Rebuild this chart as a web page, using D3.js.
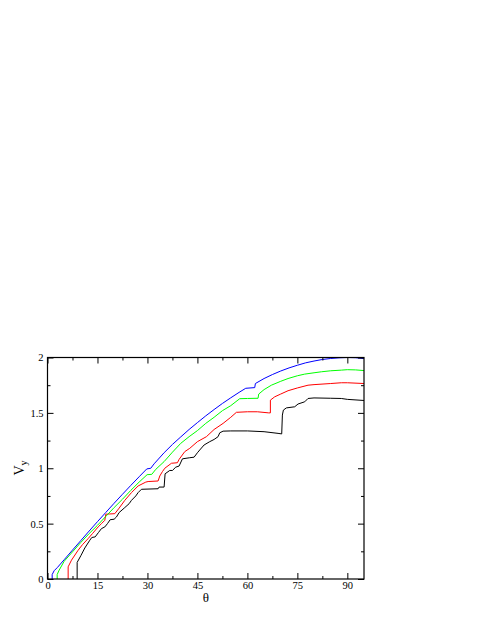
<!DOCTYPE html>
<html>
<head>
<meta charset="utf-8">
<script src="https://cdn.jsdelivr.net/npm/d3@7/dist/d3.min.js"></script>
<style>
  html, body { margin: 0; padding: 0; background: #fff; }
  svg { display: block; }
  text { font-family: "Liberation Serif", "DejaVu Serif", serif; fill: #000; }
</style>
</head>
<body>
<svg id="chart" width="485" height="627"></svg>
<script>
// ---- data ----
const xTicks = [0, 15, 30, 45, 60, 75, 90];
const xTickLabels = ["0", "15", "30", "45", "60", "75", "90"];
const xMinorTicks = [7.5, 22.5, 37.5, 52.5, 67.5, 82.5];
const yTicks = [0, 0.5, 1, 1.5, 2];
const yTickLabels = ["0", "0.5", "1", "1.5", "2"];
const yMinorTicks = [0.25, 0.75, 1.25, 1.75];

const blueTheta = [1.4, 1.4, 2.0, 3, 5, 7.5, 10, 12.5, 15, 17.5, 20, 22.5, 25, 27.5, 29.8, 31, 32, 35, 37.5, 40, 42.5, 45, 47.5, 50, 52.5, 55, 57.5, 59.5, 62.2, 62.4, 65, 67.5, 70, 72.5, 75, 77.5, 80, 82.5, 85, 87.5, 90, 92.5, 95];
const blueV     = [0, 0.04, 0.075, 0.105, 0.174, 0.261, 0.347, 0.433, 0.518, 0.601, 0.684, 0.765, 0.845, 0.923, 0.994, 1.0, 1.04, 1.14, 1.215, 1.283, 1.35, 1.412, 1.473, 1.53, 1.585, 1.636, 1.685, 1.722, 1.728, 1.765, 1.81, 1.846, 1.878, 1.906, 1.93, 1.952, 1.968, 1.982, 1.991, 1.997, 2.0, 1.998, 1.99];

const greenTheta = [2.9, 2.9, 3.5, 5, 7.5, 10, 12.5, 15, 17.5, 20, 22.5, 25, 27.5, 29.9, 31.3, 32.5, 35, 37.5, 40, 42.5, 45, 47.5, 50, 52.5, 55, 57.7, 60, 63.2, 63.4, 65, 67.2, 70, 72.2, 75, 77.2, 80, 82.2, 85, 88.2, 90, 92.5, 95];
const greenV     = [0, 0.04, 0.08, 0.16, 0.245, 0.33, 0.41, 0.485, 0.565, 0.645, 0.72, 0.80, 0.875, 0.942, 0.945, 0.99, 1.06, 1.145, 1.225, 1.285, 1.34, 1.405, 1.46, 1.52, 1.565, 1.628, 1.63, 1.632, 1.67, 1.71, 1.75, 1.785, 1.81, 1.835, 1.85, 1.862, 1.871, 1.88, 1.886, 1.89, 1.888, 1.882];

const redTheta = [6.2, 6.2, 7.2, 9.2, 10.5, 12.2, 13.5, 15.2, 16.2, 17.2, 17.5, 18.5, 20.2, 21.5, 23.2, 25.2, 27.2, 29.5, 30.2, 33.2, 33.7, 34.5, 35.2, 37.2, 39.0, 39.5, 41.2, 42.7, 45, 47.7, 50, 52.7, 55, 56.7, 60, 63, 66.4, 66.9, 66.9, 68.2, 70, 72.2, 75, 78.2, 80, 85, 88.2, 90, 95];
const redV     = [0, 0.11, 0.17, 0.26, 0.31, 0.365, 0.41, 0.47, 0.50, 0.53, 0.585, 0.587, 0.59, 0.64, 0.71, 0.78, 0.84, 0.875, 0.88, 0.885, 0.93, 0.97, 1.0, 1.045, 1.05, 1.08, 1.15, 1.18, 1.24, 1.285, 1.35, 1.405, 1.46, 1.505, 1.51, 1.51, 1.50, 1.50, 1.615, 1.645, 1.67, 1.70, 1.725, 1.75, 1.755, 1.765, 1.772, 1.772, 1.765];

const blackTheta = [8.9, 8.9, 10, 11.2, 12.7, 13.3, 14.3, 15.3, 16.2, 17.2, 18.0, 18.8, 20.0, 20.7, 21.5, 23.2, 24.5, 25.2, 26.5, 27.2, 28.2, 33.2, 33.5, 35.0, 35.3, 36.7, 37.5, 38.5, 39.5, 40.5, 42.7, 44.0, 45.0, 45.7, 47, 48.7, 50, 51.2, 51.7, 52.7, 55, 60, 65, 69.2, 70.3, 70.5, 70.8, 71.7, 74.2, 75.2, 77.2, 78.2, 80, 85, 88.2, 90, 95];
const blackV     = [0, 0.15, 0.21, 0.28, 0.35, 0.375, 0.38, 0.42, 0.455, 0.47, 0.50, 0.535, 0.54, 0.56, 0.60, 0.645, 0.68, 0.71, 0.75, 0.78, 0.81, 0.815, 0.83, 0.83, 0.95, 0.98, 0.98, 1.01, 1.02, 1.085, 1.095, 1.10, 1.14, 1.165, 1.21, 1.24, 1.26, 1.285, 1.32, 1.335, 1.337, 1.337, 1.33, 1.315, 1.31, 1.48, 1.525, 1.545, 1.555, 1.58, 1.60, 1.63, 1.635, 1.632, 1.63, 1.622, 1.612];

const seriesColors = ["#000000", "#ff0000", "#00ff00", "#0000ff"];

// ---- layout ----
const svg = d3.select("#chart");
const x = d3.scaleLinear().domain([0, 95]).range([47.5, 364]);
const y = d3.scaleLinear().domain([0, 2]).range([579, 357.5]);

const series = [
  {theta: blackTheta, v: blackV},
  {theta: redTheta, v: redV},
  {theta: greenTheta, v: greenV},
  {theta: blueTheta, v: blueV}
];

const line = d3.line().x(d => x(d[0])).y(d => y(d[1]));

const g = svg.append("g");
series.forEach((s, i) => {
  const pts = s.theta.map((t, j) => [t, s.v[j]]);
  g.append("path")
    .attr("d", line(pts))
    .attr("fill", "none")
    .attr("stroke", seriesColors[i])
    .attr("stroke-width", 1)
    .attr("stroke-linejoin", "miter");
});

// axes
const tickFont = "10.5px";
function styleAxis(sel) {
  sel.select(".domain").remove();
  sel.selectAll("line").attr("stroke", "#000").attr("stroke-width", 1);
  sel.selectAll("text")
    .style("font-family", '"Liberation Serif", "DejaVu Serif", serif')
    .style("font-size", tickFont).attr("fill", "#000");
}

const xAxis = svg.append("g").attr("transform", `translate(0,${y(0)})`)
  .call(d3.axisBottom(x).tickValues(xTicks).tickSize(-6).tickPadding(3)
    .tickFormat((d, i) => xTickLabels[i]));
styleAxis(xAxis);
const xAxisMinor = svg.append("g").attr("transform", `translate(0,${y(0)})`)
  .call(d3.axisBottom(x).tickValues(xMinorTicks).tickSize(-3).tickFormat(""));
styleAxis(xAxisMinor);

const xTop = svg.append("g").attr("transform", `translate(0,${y(2)})`)
  .call(d3.axisTop(x).tickValues(xTicks).tickSize(-6).tickFormat(""));
styleAxis(xTop);
const xTopMinor = svg.append("g").attr("transform", `translate(0,${y(2)})`)
  .call(d3.axisTop(x).tickValues(xMinorTicks).tickSize(-3).tickFormat(""));
styleAxis(xTopMinor);

const yAxis = svg.append("g").attr("transform", `translate(${x(0)},0)`)
  .call(d3.axisLeft(y).tickValues(yTicks).tickSize(-6).tickPadding(4)
    .tickFormat((d, i) => yTickLabels[i]));
styleAxis(yAxis);
const yAxisMinor = svg.append("g").attr("transform", `translate(${x(0)},0)`)
  .call(d3.axisLeft(y).tickValues(yMinorTicks).tickSize(-3).tickFormat(""));
styleAxis(yAxisMinor);

const yRight = svg.append("g").attr("transform", `translate(${x(95)},0)`)
  .call(d3.axisRight(y).tickValues(yTicks).tickSize(-6).tickFormat(""));
styleAxis(yRight);
const yRightMinor = svg.append("g").attr("transform", `translate(${x(95)},0)`)
  .call(d3.axisRight(y).tickValues(yMinorTicks).tickSize(-3).tickFormat(""));
styleAxis(yRightMinor);

// frame
svg.append("rect")
  .attr("x", x(0)).attr("y", y(2))
  .attr("width", x(95) - x(0)).attr("height", y(0) - y(2))
  .attr("fill", "none").attr("stroke", "#000").attr("stroke-width", 1.2);

// axis titles
svg.append("text")
  .attr("x", (x(0) + x(95)) / 2).attr("y", 602)
  .attr("text-anchor", "middle")
  .style("font-size", "13px")
  .text("θ");

const yl = svg.append("text")
  .attr("transform", `translate(23.5,468) rotate(-90)`)
  .attr("text-anchor", "middle")
  .style("font-size", "14px");
yl.append("tspan").text("V");
yl.append("tspan").attr("dy", 3).style("font-size", "10px").text("y");
</script>
</body>
</html>
